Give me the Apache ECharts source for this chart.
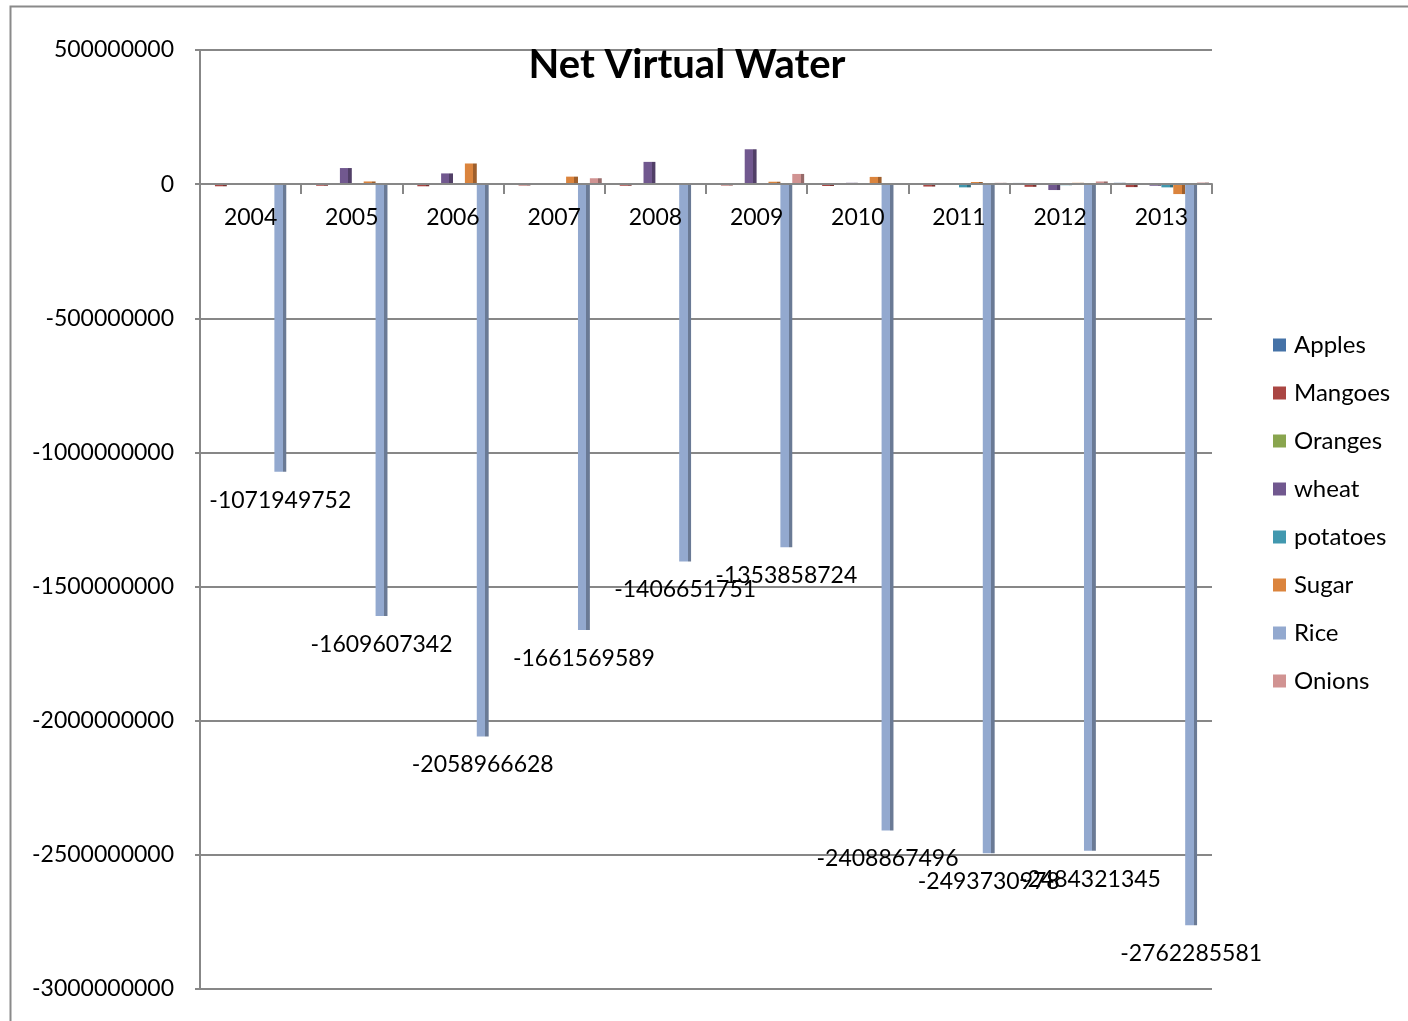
<!DOCTYPE html>
<html>
<head>
<meta charset="utf-8">
<title>Net Virtual Water</title>
<script src="https://cdn.jsdelivr.net/npm/echarts@6/dist/echarts.min.js"></script>
<style>
  html, body { margin: 0; padding: 0; background: #ffffff; }
  #chart { width: 1408px; height: 1021px; }
</style>
</head>
<body>
<div id="chart"></div>
<script>
// Net virtual water per crop and year
const years = ['2004', '2005', '2006', '2007', '2008', '2009', '2010', '2011', '2012', '2013'];

const apples   = [1500000, 1800000, 2000000, 1500000, 1700000, 2100000, 2500000, 3000000, 4500000, 5000000];
const mangoes  = [-8000000, -6000000, -8000000, -5000000, -6000000, -5000000, -7000000, -9000000, -10000000, -11000000];
const oranges  = [1000000, 1200000, 1500000, 1000000, 1300000, 1400000, 1500000, 1800000, 2000000, 2200000];
const wheat    = [3000000, 60000000, 40000000, -2000000, 83000000, 130000000, 5000000, -3000000, -22000000, -6000000];
const potatoes = [-3000000, 2000000, 1000000, 2000000, -2000000, -3000000, 3000000, -12000000, -4000000, -12000000];
const sugar    = [2000000, 10000000, 77000000, 28000000, 3000000, 9000000, 27000000, 8000000, 5000000, -37000000];
const rice     = [-1071949752, -1609607342, -2058966628, -1661569589, -1406651751, -1353858724, -2408867496, -2493730978, -2484321345, -2762285581];
const onions   = [2000000, 2000000, -2000000, 22000000, 3000000, 38000000, 3000000, 5000000, 10000000, 6000000];

const yTicks = { min: -3000000000, max: 500000000, step: 500000000 };

const seriesDefs = [
  { name: 'Apples',   data: apples,   color: '#4572A7' },
  { name: 'Mangoes',  data: mangoes,  color: '#AA4643' },
  { name: 'Oranges',  data: oranges,  color: '#89A54E' },
  { name: 'wheat',    data: wheat,    color: '#71588F' },
  { name: 'potatoes', data: potatoes, color: '#4198AF' },
  { name: 'Sugar',    data: sugar,    color: '#DB843D' },
  { name: 'Rice',     data: rice,     color: '#93A9CF', labelled: true },
  { name: 'Onions',   data: onions,   color: '#D19392' }
];

const FONT = 'Lato, "Noto Sans", sans-serif';
const AXIS_GREY = '#878787';

// plot box in pixels
const GRID = { left: 200, right: 196, top: 50, bottom: 32 };
const PLOT_H = 1021 - GRID.top - GRID.bottom;
// distance from the bottom of the plot up to the zero line
const ZERO_LIFT = PLOT_H * (0 - yTicks.min) / (yTicks.max - yTicks.min);

function shade(hex, f) {
  const n = parseInt(hex.slice(1), 16);
  const r = Math.round(((n >> 16) & 255) * f);
  const g = Math.round(((n >> 8) & 255) * f);
  const b = Math.round((n & 255) * f);
  return 'rgb(' + r + ',' + g + ',' + b + ')';
}

// front face plus a darker side face to give the columns some depth
function columnFill(hex) {
  return new echarts.graphic.LinearGradient(0, 0, 1, 0, [
    { offset: 0, color: hex },
    { offset: 0.7, color: hex },
    { offset: 0.7, color: shade(hex, 0.72) },
    { offset: 1, color: shade(hex, 0.72) }
  ]);
}

const series = seriesDefs.map(function (s) {
  return {
    name: s.name,
    type: 'bar',
    data: s.data,
    barGap: '0%',
    barCategoryGap: '6%',
    itemStyle: { color: columnFill(s.color) },
    label: s.labelled ? {
      show: true,
      position: 'bottom',
      distance: 17,
      color: '#000000',
      fontFamily: FONT,
      fontSize: 23,
      formatter: function (p) { return String(p.value); }
    } : { show: false },
    emphasis: { disabled: true }
  };
});

const chart = echarts.init(document.getElementById('chart'), null, { renderer: 'canvas' });

chart.setOption({
  backgroundColor: '#ffffff',
  animation: false,
  color: seriesDefs.map(function (s) { return s.color; }),
  title: {
    text: 'Net Virtual Water',
    left: 682,
    top: 40,
    textAlign: 'center',
    textStyle: { fontFamily: FONT, fontSize: 40, fontWeight: 'bold', color: '#000000' }
  },
  legend: {
    orient: 'vertical',
    left: 1268,
    top: 328,
    itemWidth: 13,
    itemHeight: 13,
    itemGap: 24,
    icon: 'rect',
    textStyle: { fontFamily: FONT, fontSize: 24, color: '#000000', lineHeight: 23, padding: [0, 0, 0, 3] },
    data: seriesDefs.map(function (s) {
      return { name: s.name, itemStyle: { color: s.color } };
    })
  },
  grid: { left: GRID.left, right: GRID.right, top: GRID.top, bottom: GRID.bottom, containLabel: false },
  xAxis: {
    type: 'category',
    data: years,
    position: 'bottom',
    offset: -Math.round(ZERO_LIFT),
    z: 3,
    axisLine: { onZero: false, lineStyle: { color: AXIS_GREY, width: 2 } },
    axisTick: { show: true, length: 10, lineStyle: { color: AXIS_GREY, width: 2 } },
    axisLabel: { margin: 22, fontFamily: FONT, fontSize: 23, color: '#000000' },
    splitLine: { show: false }
  },
  yAxis: {
    type: 'value',
    min: yTicks.min,
    max: yTicks.max,
    interval: yTicks.step,
    axisLine: { show: true, lineStyle: { color: AXIS_GREY, width: 2 } },
    axisTick: { show: true, length: 5, lineStyle: { color: AXIS_GREY, width: 2 } },
    axisLabel: {
      margin: 26, fontFamily: FONT, fontSize: 23, color: '#000000',
      formatter: function (v) { return String(v); }
    },
    splitLine: { show: true, lineStyle: { color: AXIS_GREY, width: 2 } }
  },
  graphic: [
    {
      type: 'rect',
      left: 8,
      top: 4,
      shape: { x: 0, y: 0, width: 1420, height: 1040 },
      style: { fill: 'none', stroke: '#8a8a8a', lineWidth: 2 },
      silent: true
    }
  ],
  series: series
});
</script>
</body>
</html>
